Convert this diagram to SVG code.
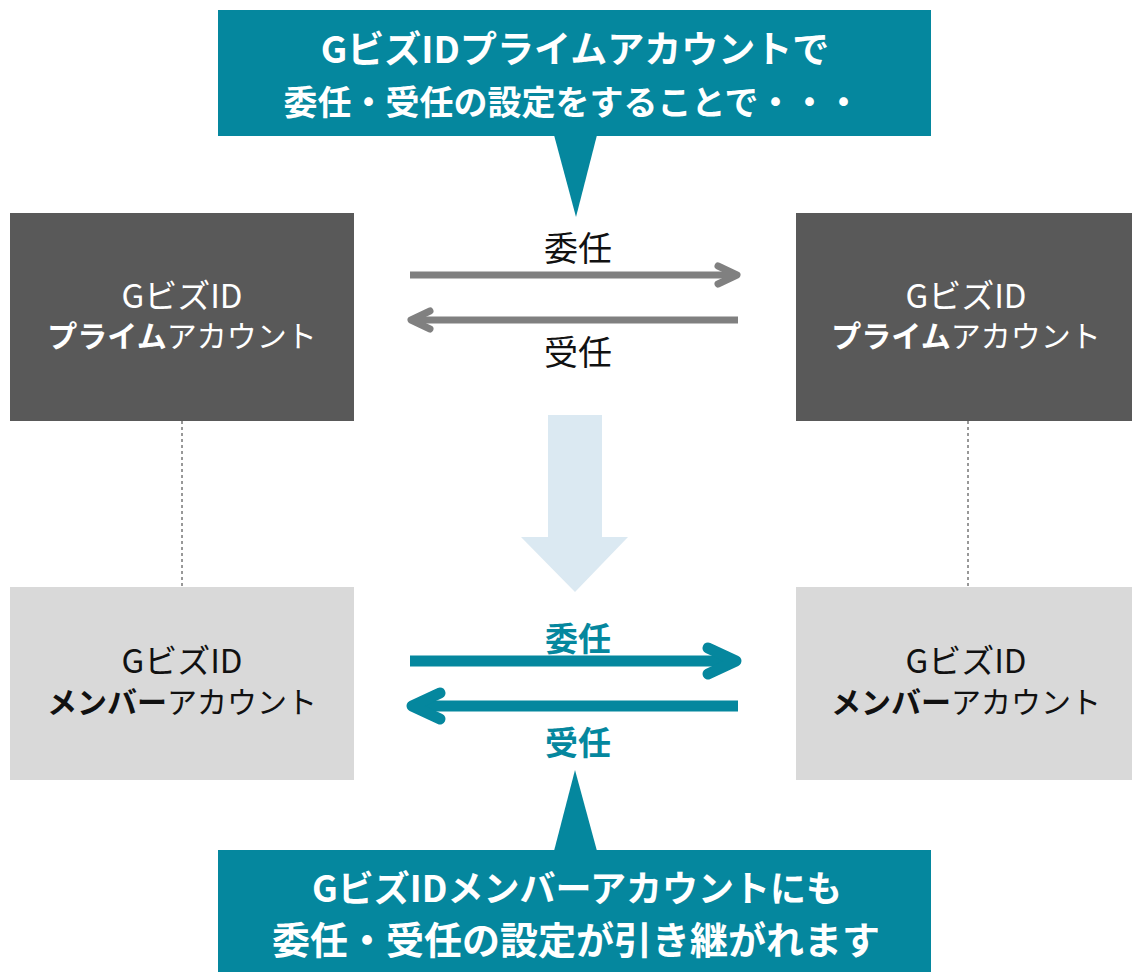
<svg xmlns="http://www.w3.org/2000/svg" width="1132" height="972" viewBox="0 0 1132 972">
<style>
text{font-family:"Noto Sans CJK JP","Noto Sans",sans-serif;text-anchor:middle}
.call{fill:#05879e}
.ct{fill:#fff;font-weight:bold}
.dark{fill:#595959}
.light{fill:#d9d9d9}
.bt{font-size:30px}
.b1{font-size:33px}
.w{fill:#fff}
.k{fill:#111}
.gl{font-size:34px;fill:#111}
.tl{font-size:33px;fill:#05879e;font-weight:bold}
.garr{stroke:#808080;stroke-width:7;fill:none}
.tarr{stroke:#05879e;stroke-width:11;fill:none}
.dash{stroke:#333;stroke-width:1;stroke-dasharray:3 3}
</style>
<g id="callout-top">
<rect class="call" x="218" y="10" width="713" height="126"/>
<polygon class="call" points="554,135 597,135 576,217"/>
<text class="ct" x="575" y="63" font-size="37">GビズIDプライムアカウントで</text>
<text class="ct" x="572" y="115" font-size="34">委任・受任の設定をすることで・・・</text>
</g>
<g id="prime-left">
<rect class="dark" x="10" y="213" width="344" height="208"/>
<text class="b1 w" x="182" y="308">GビズID</text>
<text class="bt w" x="182" y="347"><tspan font-weight="bold">プライム</tspan>アカウント</text>
</g>
<g id="prime-right">
<rect class="dark" x="796" y="213" width="336" height="208"/>
<text class="b1 w" x="966" y="308">GビズID</text>
<text class="bt w" x="966" y="347"><tspan font-weight="bold">プライム</tspan>アカウント</text>
</g>
<g id="member-left">
<rect class="light" x="10" y="587" width="344" height="193"/>
<text class="b1 k" x="182" y="673">GビズID</text>
<text class="bt k" x="182" y="713"><tspan font-weight="bold">メンバー</tspan>アカウント</text>
</g>
<g id="member-right">
<rect class="light" x="796" y="587" width="336" height="193"/>
<text class="b1 k" x="966" y="673">GビズID</text>
<text class="bt k" x="966" y="713"><tspan font-weight="bold">メンバー</tspan>アカウント</text>
</g>
<g id="callout-bottom">
<rect class="call" x="218" y="850" width="713" height="122"/>
<polygon class="call" points="554,851 597,851 575,770"/>
<text class="ct" x="577" y="902" font-size="36">GビズIDメンバーアカウントにも</text>
<text class="ct" x="576" y="954" font-size="38">委任・受任の設定が引き継がれます</text>
</g>
<g id="connectors">
<line class="dash" x1="182" y1="421" x2="182" y2="587"/>
<line class="dash" x1="968" y1="421" x2="968" y2="587"/>
<line class="garr" x1="410" y1="275" x2="734" y2="275"/>
<polyline class="garr" points="718,266 737,275 718,284" stroke-linecap="round" stroke-linejoin="round"/>
<line class="garr" x1="738" y1="320" x2="414" y2="320"/>
<polyline class="garr" points="430,311 411,320 430,329" stroke-linecap="round" stroke-linejoin="round"/>
<text class="gl" x="578" y="261">委任</text>
<text class="gl" x="578" y="365">受任</text>
<polygon fill="#dbe9f2" points="548,415 602,415 602,537 628,537 575,592 521,537 548,537"/>
<line class="tarr" x1="410" y1="661" x2="732" y2="661"/>
<polyline class="tarr" points="708,648 736,661 708,674" stroke-linecap="round" stroke-linejoin="round"/>
<line class="tarr" x1="738" y1="706" x2="416" y2="706"/>
<polyline class="tarr" points="440,693 412,706 440,719" stroke-linecap="round" stroke-linejoin="round"/>
<text class="tl" x="578" y="651">委任</text>
<text class="tl" x="578" y="755">受任</text>
</g>
</svg>
